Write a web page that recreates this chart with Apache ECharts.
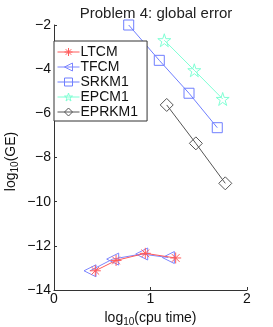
<!DOCTYPE html>
<html><head><meta charset="utf-8">
<script src="https://cdn.jsdelivr.net/npm/echarts@6/dist/echarts.min.js"></script>
<style>html,body{margin:0;padding:0;background:#fff}#c{width:273px;height:327px}</style>
</head><body><div id="c"></div>
<script>
const seriesNames = ['LTCM','TFCM','SRKM1','EPCM1','EPRKM1'];
const ltcmX = [0.428, 0.643, 0.946, 1.261];
const ltcmY = [-13.13, -12.66, -12.34, -12.55];
const tfcmX = [0.373, 0.608, 0.909, 1.185];
const tfcmY = [-13.13, -12.60, -12.37, -12.53];
const srkm1X = [0.774, 1.091, 1.399, 1.692];
const srkm1Y = [-2.00, -3.60, -5.09, -6.65];
const epcm1X = [1.143, 1.454, 1.748];
const epcm1Y = [-2.69, -4.05, -5.35];
const eprkm1X = [1.168, 1.470, 1.775];
const eprkm1Y = [-5.62, -7.36, -9.17];
const xTicks = [0, 1, 2];
const yTicks = [-14, -12, -10, -8, -6, -4, -2];

const colors = ['#ff5a5a', '#7d86ff', '#6f7fff', '#7fffd4', '#555555'];
const symbols = [
  'path://M5,0L5,10M0,5L10,5M1.5,1.5L8.5,8.5M8.5,1.5L1.5,8.5',
  'path://M0,5L10,0L10,10Z',
  'rect',
  'path://M50,0L61.8,36.2L100,36.2L69.1,58.6L80.9,95.1L50,72.6L19.1,95.1L30.9,58.6L0,36.2L38.2,36.2Z',
  'diamond'
];
const sizes = [11, 12, 10, 13, 13];
const xs = [ltcmX, tfcmX, srkm1X, epcm1X, eprkm1X];
const ys = [ltcmY, tfcmY, srkm1Y, epcm1Y, eprkm1Y];

const font = 'Liberation Sans, Helvetica, Arial, sans-serif';
const chart = echarts.init(document.getElementById('c'), null, {renderer: 'canvas'});
const series = seriesNames.map((n, i) => ({
  name: n, type: 'line',
  data: xs[i].map((x, j) => [x, ys[i][j]]),
  symbol: symbols[i], symbolSize: sizes[i],
  lineStyle: {color: colors[i], width: 1},
  itemStyle: {color: 'rgba(0,0,0,0)', borderColor: colors[i], borderWidth: 1},
  z: 2 + (i === 0 ? 1 : 0),
  animation: false
}));
chart.setOption({
  animation: false,
  title: {text: 'Problem 4: global error', left: 151, textAlign: 'center', top: 1,
    textStyle: {fontFamily: font, fontSize: 15, fontWeight: 'normal', color: '#222'}},
  grid: {left: 54, right: 26, top: 25, bottom: 37, outerBoundsMode: 'none', containLabel: false},
  legend: {
    orient: 'vertical', left: 54, top: 41, data: seriesNames,
    backgroundColor: '#fff', borderColor: '#333', borderWidth: 1,
    padding: [4, 9, 2, 3], itemGap: 1, itemWidth: 22, itemHeight: 10,
    lineStyle: {width: 1},
    itemStyle: {borderWidth: 1},
    textStyle: {fontFamily: font, fontSize: 14, color: '#111', padding: [0, 0, 0, -4]}
  },
  xAxis: {
    type: 'value', min: 0, max: 2, interval: 1,
    name: '{a|log}{s|10}{a|(cpu time)}', nameLocation: 'middle', nameGap: 8,
    nameTextStyle: {rich: {a: {fontFamily: font, fontSize: 14, color: '#111'},
      s: {fontFamily: font, fontSize: 10, color: '#111', verticalAlign: 'bottom', padding: [8, 0, 0, 0]}}},
    axisLine: {lineStyle: {color: '#333', width: 1}},
    axisTick: {inside: true, length: 3, lineStyle: {color: '#333'}},
    splitLine: {show: false},
    axisLabel: {fontFamily: font, fontSize: 14, color: '#111', margin: 2}
  },
  yAxis: {
    type: 'value', min: -14, max: -2, interval: 2,
    name: '{a|log}{s|10}{a|(GE)}', nameLocation: 'middle', nameGap: 34, nameMoveOverlap: false,
    nameTextStyle: {padding: [0, 8, 0, 0], rich: {a: {fontFamily: font, fontSize: 14, color: '#111'},
      s: {fontFamily: font, fontSize: 10, color: '#111', verticalAlign: 'bottom', padding: [8, 0, 0, 0]}}},
    axisLine: {lineStyle: {color: '#333', width: 1}},
    axisTick: {inside: true, length: 3, lineStyle: {color: '#333'}},
    splitLine: {show: false},
    axisLabel: {fontFamily: font, fontSize: 14, color: '#111', margin: 3,
      formatter: v => (v < 0 ? '\u2212' + Math.abs(v) : String(v))}
  },
  series: series
});
</script></body></html>
